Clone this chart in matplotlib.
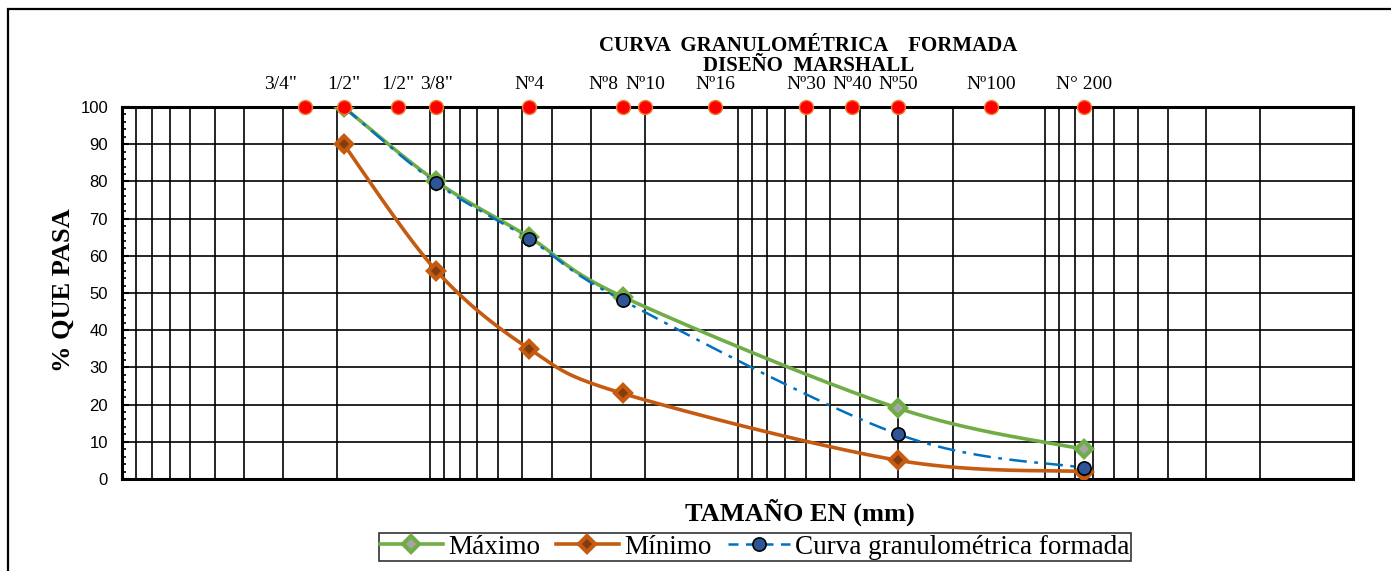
import numpy as np
import matplotlib
matplotlib.use("Agg")
import matplotlib.pyplot as plt
from matplotlib.lines import Line2D
from matplotlib.patches import Rectangle
from matplotlib.ticker import MultipleLocator, LogLocator, NullFormatter

# sieve openings (mm) marked along the top edge
sieve_mm = [25.4, 19.05, 12.7, 9.525, 4.75, 2.36, 2.0, 1.18, 0.6, 0.425, 0.3, 0.15, 0.075]
sieve_labels = ['3/4"', '1/2"', '1/2"', '3/8"', 'Nº4', 'Nº8', 'Nº10', 'Nº16',
                'Nº30', 'Nº40', 'Nº50', 'Nº100', 'N° 200']

# gradation band and blended aggregate (% passing)
size_mm = [19.05, 9.525, 4.75, 2.36, 0.3, 0.075]
maximo = [100, 80, 65, 49, 19, 8]
minimo = [90, 56, 35, 23, 5, 2]
curva = [100, 79.5, 64.5, 48, 12, 3]

SERIF = "Liberation Serif"
SANS = "Liberation Sans"
GREEN = "#70AD47"
ORANGE = "#C55A11"
BLUE = "#0070C0"
NAVY = "#2F5597"

W, H = 1391, 571
fig = plt.figure(figsize=(W / 100, H / 100), dpi=100)
ax = fig.add_axes([122 / W, 1 - 479 / H, (1353 - 122) / W, (479 - 107) / H])

ax.set_xscale("log")
ax.set_xlim(100, 0.01)
ax.set_ylim(0, 100)

ax.xaxis.set_major_locator(LogLocator(base=10))
ax.xaxis.set_minor_locator(LogLocator(base=10, subs=np.arange(2, 10)))
ax.xaxis.set_major_formatter(NullFormatter())
ax.xaxis.set_minor_formatter(NullFormatter())
ax.tick_params(axis="x", which="both", length=0)
ax.yaxis.set_major_locator(MultipleLocator(10))
ax.yaxis.set_minor_locator(MultipleLocator(2))
ax.tick_params(axis="y", which="major", direction="in", length=5, width=1.5,
               labelsize=12, pad=10)
ax.tick_params(axis="y", which="minor", direction="in", length=3, width=1.2)
for lab in ax.get_yticklabels():
    lab.set_fontfamily(SANS)

ax.grid(True, which="both", axis="x", color="black", lw=1.2)
ax.grid(True, which="major", axis="y", color="black", lw=1.2)
for sp in ax.spines.values():
    sp.set_linewidth(2.2)


def smooth(xs, ys, n=40):
    """Catmull-Rom spline through the points, built in screen space."""
    pts = ax.transData.transform(np.column_stack([xs, ys]))
    p = np.vstack([pts[0], pts, pts[-1]])
    out = []
    t = np.linspace(0, 1, n)[:, None]
    for i in range(1, len(p) - 2):
        p0, p1, p2, p3 = p[i - 1], p[i], p[i + 1], p[i + 2]
        seg = 0.5 * ((2 * p1) + (-p0 + p2) * t + (2 * p0 - 5 * p1 + 4 * p2 - p3) * t ** 2
                     + (-p0 + 3 * p1 - 3 * p2 + p3) * t ** 3)
        out.append(seg)
    out = np.vstack(out)
    inv = ax.transData.inverted().transform(out)
    return inv[:, 0], inv[:, 1]


sx, sy = smooth(size_mm, maximo)
ax.plot(sx, sy, color=GREEN, lw=2.6, zorder=4)
ax.plot(size_mm, maximo, ls="none", marker="D", ms=8.5, mfc="#A5A5A5", mec=GREEN,
        mew=3, zorder=5)

sx, sy = smooth(size_mm, minimo)
ax.plot(sx, sy, color=ORANGE, lw=2.6, zorder=4)
ax.plot(size_mm, minimo, ls="none", marker="D", ms=8.5, mfc="#843C0C", mec=ORANGE,
        mew=3, zorder=5)

sx, sy = smooth(size_mm, curva)
ax.plot(sx, sy, color=BLUE, lw=1.8, ls=(0, (7, 3, 1.5, 3)), zorder=4)
ax.plot(size_mm, curva, ls="none", marker="o", ms=9.5, mfc=NAVY, mec="black",
        mew=1.2, zorder=6)

# sieve markers and names on the top edge
ax.plot(sieve_mm, [100] * len(sieve_mm), ls="none", marker="o", ms=10,
        mfc="#FF0000", mec="#ED7D31", mew=1, clip_on=False, zorder=7)
label_shift = {0: -18, 5: -14}
for i, (s, lab) in enumerate(zip(sieve_mm, sieve_labels)):
    ax.annotate(lab, xy=(s, 100), xytext=(label_shift.get(i, 0), 10),
                textcoords="offset points", ha="center", va="bottom",
                fontsize=14, family=SERIF)

fig.text(0.581, 1 - 46 / H, "CURVA  GRANULOMÉTRICA    FORMADA", ha="center",
         va="center", fontsize=15, fontweight="bold", family=SERIF)
fig.text(0.581, 1 - 66 / H, "DISEÑO  MARSHALL", ha="center", va="center",
         fontsize=15, fontweight="bold", family=SERIF)
fig.text(63 / W, 1 - 290 / H, "% QUE PASA", rotation=90, ha="center", va="center",
         fontsize=19, fontweight="bold", family=SERIF)
fig.text(800 / W, 1 - 512 / H, "TAMAÑO EN (mm)", ha="center", va="center",
         fontsize=19, fontweight="bold", family=SERIF)

handles = [
    Line2D([], [], color=GREEN, lw=2.6, marker="D", ms=8.5, mfc="#A5A5A5", mec=GREEN, mew=3),
    Line2D([], [], color=ORANGE, lw=2.6, marker="D", ms=8.5, mfc="#843C0C", mec=ORANGE, mew=3),
    Line2D([], [], color=BLUE, lw=1.8, ls=(0, (4, 3)), marker="o", ms=9.5, mfc=NAVY,
           mec="black", mew=1.2),
]
leg = fig.legend(handles, ["Máximo", "Mínimo", "Curva granulométrica formada"],
                 loc="center", bbox_to_anchor=(755 / W, 1 - 547 / H), ncol=3,
                 frameon=True, fancybox=False, edgecolor="black", borderpad=0.05,
                 handlelength=2.3, handletextpad=0.2, columnspacing=0.6,
                 borderaxespad=0, prop={"family": SERIF, "size": 19.5})
leg.get_frame().set_linewidth(1.2)

# outer chart border
fig.add_artist(Rectangle((8 / W, -0.05), 1.2, 1 - 9 / H + 0.05, transform=fig.transFigure,
                         fill=False, ec="black", lw=1.6))

fig.savefig("out.png", dpi=100)
